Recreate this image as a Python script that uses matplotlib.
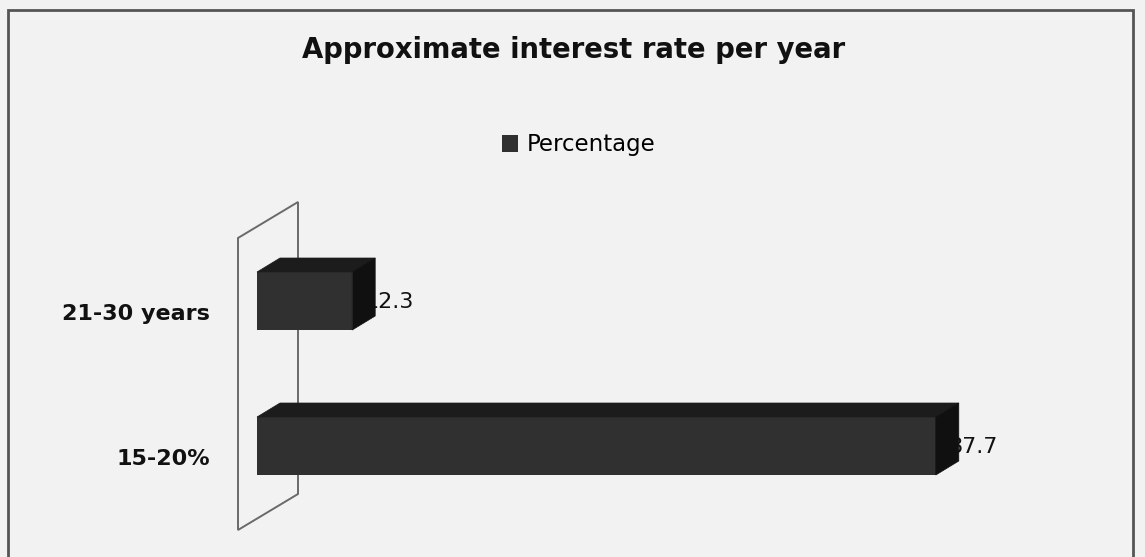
import matplotlib
import numpy as np

matplotlib.use('Agg')
import matplotlib.pyplot as plt
from matplotlib.patches import Polygon, Rectangle

plt.rcParams['font.family'] = ['DejaVu Sans']

categories = ['15-20%', '21-30 years']
values = [87.7, 12.3]
series_name = 'Percentage'
title = 'Approximate interest rate per year'

W, H = 1145, 557
fig = plt.figure(figsize=(W / 100, H / 100), dpi=100)
fig.patch.set_facecolor('#f2f2f2')
ax = fig.add_axes([0, 0, 1, 1])
ax.set_facecolor('#eeeeee')
ax.axis('off')

# pixel scale: 7.74 px per unit, 145 px between categories
px_x = 7.74
px_y = 145.0
x0_px = 257
c0_px = 446
ax.set_xlim(-x0_px / px_x, (W - x0_px) / px_x)
ax.set_ylim(-(H - c0_px) / px_y, c0_px / px_y)

# depth offsets (data units)
ddx = 23 / px_x
ddy = 14 / px_y
wall_dx = 60 / px_x
wall_dy = 36 / px_y
half = 0.2

# frame of the chart area
fig.patches.append(Rectangle((8 / W, -0.02), (1133 - 8) / W, (H - 10) / H + 0.02,
                             transform=fig.transFigure, fill=False,
                             edgecolor='#555555', linewidth=2))

# back wall
wx = -19 / px_x
wtop = (c0_px - 238) / px_y
wbot = (c0_px - 530) / px_y
wall = Polygon([(wx, wbot), (wx, wtop), (wx + wall_dx, wtop + wall_dy),
                (wx + wall_dx, wbot + wall_dy)],
               closed=True, facecolor='none', edgecolor='#6a6a6a', linewidth=1.4, zorder=1)
ax.add_patch(wall)

y_pos = np.arange(len(categories))
bars = ax.barh(y_pos, values, height=2 * half, color='#303030', zorder=3,
               label=series_name)

for y, v in zip(y_pos, values):
    top = Polygon([(0, y + half), (v, y + half), (v + ddx, y + half + ddy),
                   (ddx, y + half + ddy)], closed=True, facecolor='#1c1c1c',
                  edgecolor='#1c1c1c', linewidth=0.5, zorder=3)
    side = Polygon([(v, y - half), (v, y + half), (v + ddx, y + half + ddy),
                    (v + ddx, y - half + ddy)], closed=True, facecolor='#101010',
                   edgecolor='#101010', linewidth=0.5, zorder=5)
    ax.add_patch(top)
    ax.add_patch(side)
    ax.text(v + 1.6, y - 0.01, f'{v}', ha='left', va='center', fontsize=16,
            color='#111111', zorder=4)
    ax.text(-47 / px_x, y - 0.09, categories[y], ha='right', va='center',
            fontsize=16, fontweight='bold', color='#111111')

fig.text(574 / W, 1 - 50 / H, title, ha='center', va='center', fontsize=19.8,
         fontweight='bold', color='#111111')

fig.legend(handles=[bars], labels=[series_name], loc='center',
           bbox_to_anchor=(579 / W, 1 - 145 / H), frameon=False, fontsize=16.5,
           handlelength=0.7, handleheight=0.7, handletextpad=0.4)

fig.savefig('out.png', dpi=100, facecolor=fig.get_facecolor())
